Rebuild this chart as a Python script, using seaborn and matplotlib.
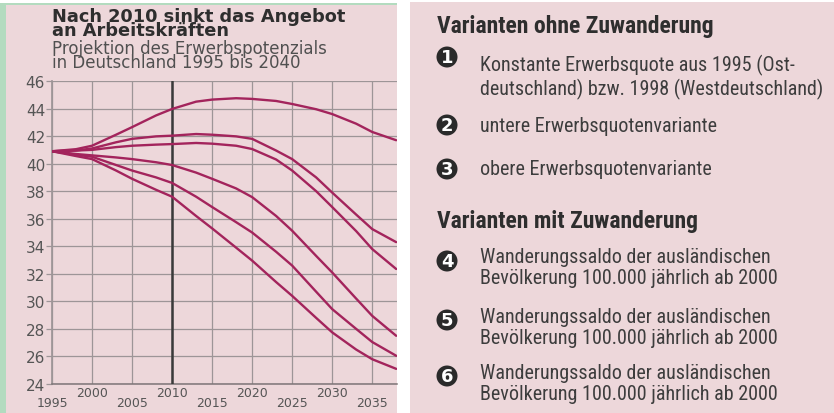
import pandas as pd
import seaborn as sns
import matplotlib.pyplot as plt
from matplotlib import font_manager
from matplotlib.patches import Rectangle, Circle

# Werte (Erwerbspotenzial in Mio.)
years = [1995, 1998, 2000, 2003, 2005, 2008, 2010, 2013, 2015,
         2018, 2020, 2023, 2025, 2028, 2030, 2033, 2035, 2038]
curve_a = [40.9, 41.05, 41.3, 42.1, 42.65, 43.5, 43.97, 44.5, 44.65,
           44.75, 44.7, 44.55, 44.33, 43.95, 43.6, 42.9, 42.3, 41.7]
curve_b = [40.9, 40.95, 41.1, 41.55, 41.8, 41.98, 42.03, 42.15, 42.1,
           41.98, 41.8, 40.95, 40.33, 39.0, 37.9, 36.3, 35.25, 34.3]
curve_c = [40.9, 40.95, 41.0, 41.2, 41.3, 41.38, 41.42, 41.5, 41.45,
           41.3, 41.06, 40.3, 39.5, 38.0, 36.85, 35.1, 33.8, 32.35]
curve_d = [40.9, 40.7, 40.6, 40.45, 40.33, 40.1, 39.9, 39.35, 38.9,
           38.2, 37.57, 36.2, 35.13, 33.3, 32.1, 30.2, 28.95, 27.5]
curve_e = [40.9, 40.65, 40.5, 39.9, 39.5, 39.0, 38.6, 37.6, 36.85,
           35.75, 35.0, 33.6, 32.6, 30.7, 29.44, 28.0, 27.05, 26.05]
curve_f = [40.9, 40.55, 40.33, 39.5, 38.9, 38.1, 37.6, 36.2, 35.3,
           33.9, 32.96, 31.4, 30.4, 28.8, 27.75, 26.5, 25.8, 25.1]

y_ticks = list(range(24, 47, 2))
x_upper = [2000, 2010, 2020, 2030]
x_lower = [1995, 2005, 2015, 2025, 2035]

title = "Nach 2010 sinkt das Angebot\nan Arbeitskräften"
subtitle = "Projektion des Erwerbspotenzials\nin Deutschland 1995 bis 2040"

head_ohne = "Varianten ohne Zuwanderung"
head_mit = "Varianten mit Zuwanderung"
legend_items = [
    ("1", "Konstante Erwerbsquote aus 1995 (Ost-\ndeutschland) bzw. 1998 (Westdeutschland)"),
    ("2", "untere Erwerbsquotenvariante"),
    ("3", "obere Erwerbsquotenvariante"),
    ("4", "Wanderungssaldo der ausländischen\nBevölkerung 100.000 jährlich ab 2000"),
    ("5", "Wanderungssaldo der ausländischen\nBevölkerung 100.000 jährlich ab 2000"),
    ("6", "Wanderungssaldo der ausländischen\nBevölkerung 100.000 jährlich ab 2000"),
]

curves = [curve_a, curve_b, curve_c, curve_d, curve_e, curve_f]
df = pd.DataFrame({
    "Jahr": years * len(curves),
    "Wert": [v for c in curves for v in c],
    "Variante": [str(i + 1) for i, c in enumerate(curves) for _ in c],
})

sns.set_theme(style="white")
plt.rcParams["font.family"] = ["DejaVu Sans"]

# schmale Schrift für die Legende, falls vorhanden
installed = {f.name for f in font_manager.fontManager.ttflist}
narrow = next((f for f in ["Roboto Condensed", "Liberation Sans Narrow",
                           "Arial Narrow", "Liberation Sans"] if f in installed),
              "DejaVu Sans")
NARROW = [narrow, "DejaVu Sans"]
is_cond = narrow != "Liberation Sans"

PINK = "#edd7da"
GREEN = "#b3dbbf"
LINE = "#a3245c"
GRID = "#9d9597"
TXT = "#2e2e2e"

W, H = 834, 414
fig = plt.figure(figsize=(W / 100, H / 100), dpi=100, facecolor="white")

def fx(px):
    return px / W

def fy(py):
    return 1 - py / H

# Hintergrundflächen
for x0, y0, w, h, c in [(0, 4, 397, 410, GREEN), (6, 6, 391, 408, PINK),
                        (410, 3, 424, 411, PINK)]:
    fig.patches.append(Rectangle((fx(x0), 0), fx(w), h / H, transform=fig.transFigure,
                                 facecolor=c, edgecolor="none", zorder=-5))

# Achse für das linke Panel (nur zum Abschneiden des Titels)
bg = fig.add_axes([fx(6), 0, fx(391), fy(6)])
bg.set_axis_off()
bg.set_xlim(6, 397)
bg.set_ylim(414, 6)
# bei mehrzeiligem Text gilt "baseline" für die letzte Zeile
bg.text(52, 36, title, fontsize=12.8, fontweight="bold", color=TXT,
        va="baseline", linespacing=0.7, clip_on=True)
bg.text(52, 68, subtitle, fontsize=12, color="#505050",
        va="baseline", linespacing=0.75, clip_on=True)

# Diagramm
ax = fig.add_axes([fx(52), fy(385), fx(397 - 52), (385 - 82) / H])
ax.set_facecolor("none")
sns.lineplot(data=df, x="Jahr", y="Wert", hue="Variante", palette=[LINE] * 6,
             legend=False, linewidth=1.7, ax=ax, zorder=5)
ax.set_xlim(1995, 2038.1)
ax.set_ylim(24, 46)
ax.set_xlabel("")
ax.set_ylabel("")

ax.set_yticks(y_ticks, [str(t) for t in y_ticks])
ax.set_xticks(x_lower, [str(t) for t in x_lower])
ax.set_xticks(x_upper, [str(t) for t in x_upper], minor=True)
ax.tick_params(axis="y", length=4, width=0.9, color=GRID, pad=1,
               labelsize=11, labelcolor="#555555", left=True)
ax.tick_params(axis="x", which="major", length=0, pad=8.5,
               labelsize=9, labelcolor="#555555")
ax.tick_params(axis="x", which="minor", length=0, pad=1.2,
               labelsize=9, labelcolor="#555555")

ax.grid(True, which="both", color=GRID, linewidth=0.9)
ax.axvline(2010, color="#3a3a3a", linewidth=1.8, zorder=3)
for s in ["top", "right"]:
    ax.spines[s].set_visible(False)
ax.spines["left"].set_color(GRID)
ax.spines["bottom"].set_color("#7d7577")
ax.spines["bottom"].set_linewidth(1.1)

# Legende rechts als Text
head_size = 17 if is_cond else 14.7
body_size = 14.5 if is_cond else 12.7
fig.text(fx(437), fy(33), head_ohne, fontsize=head_size, fontweight="bold", color=TXT,
         family=NARROW, va="baseline")
fig.text(fx(437), fy(228), head_mit, fontsize=head_size, fontweight="bold", color=TXT,
         family=NARROW, va="baseline")

circle_y = [58, 126, 170, 262, 321, 377]
text_base = [95, 132, 175, 284, 344, 400]
for (num, label), cy, b in zip(legend_items, circle_y, text_base):
    fig.patches.append(Circle((447 / 100, (H - cy) / 100), 0.105,
                              transform=fig.dpi_scale_trans,
                              facecolor="#2a2a2a", edgecolor="none", zorder=2))
    fig.text(fx(447), fy(cy), num, fontsize=13, fontweight="bold", color="white",
             ha="center", va="center", zorder=3)
    fig.text(fx(480), fy(b), label, fontsize=body_size, color="#3d3d3d",
             family=NARROW, va="baseline", linespacing=1.13)

fig.savefig("out.png", dpi=100, facecolor="white")
